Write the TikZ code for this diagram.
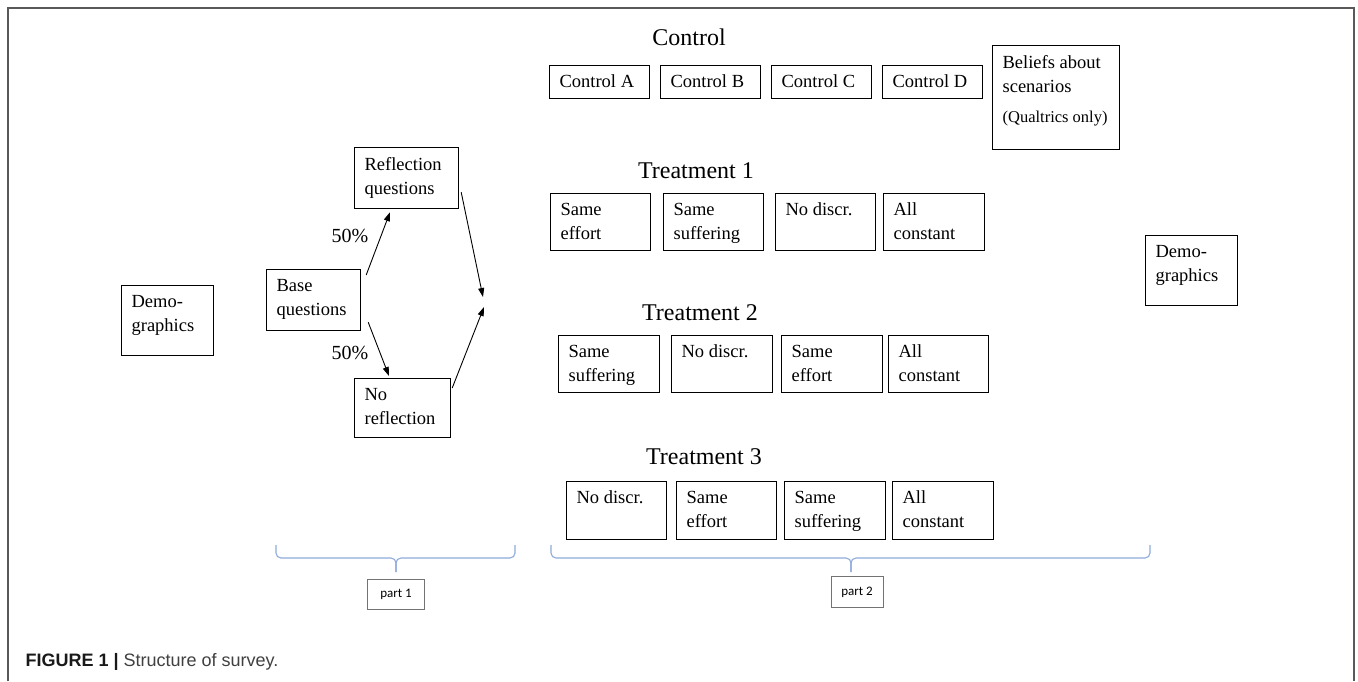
\documentclass[tikz,border=0pt]{standalone}
\usepackage{fontspec}
\setmainfont{Liberation Serif}
\newfontfamily\capfont{Liberation Sans}
\newfontfamily\partfont{Carlito}
\usetikzlibrary{arrows.meta}
\definecolor{bracecol}{HTML}{8FAADC}
\newcommand{\cellbox}[3]{\parbox[t][\dimexpr#2pt-18pt\relax][t]{\dimexpr#1pt-20pt\relax}{\raggedright#3}}

\begin{document}
\begin{tikzpicture}[x=1pt,y=-1pt,
  cell/.style={draw, line width=1.2pt, anchor=north west, inner xsep=10pt, inner ysep=9.5pt,
    font=\fontsize{18.5}{24}\selectfont},
  hdr/.style={font=\fontsize{24}{28}\selectfont},
  pct/.style={font=\fontsize{20}{24}\selectfont},
  arr/.style={line width=0.9pt, -{Triangle[length=9pt,width=6pt]}},
  partbrace/.style={bracecol, line width=1.1pt, rounded corners=5pt},
  partbox/.style={draw=black!55, line width=0.8pt, inner sep=0pt, font=\partfont\fontsize{13}{15}\selectfont}]
  \useasboundingbox (0,0) rectangle (1358,681);
  \draw[black!65, line width=1.6pt] (8,681) -- (8,8) -- (1354,8) -- (1354,681);

  % part 1
  \node[cell] (demoL) at (121,285) {\cellbox{92}{69}{Demo-\\graphics}};
  \node[cell] (base) at (266,269) {\cellbox{94}{60}{Base\\questions}};
  \node[cell] (refl) at (354,147) {\cellbox{104}{60}{Reflection\\questions}};
  \node[cell] (norefl) at (354,378) {\cellbox{96}{58}{No\\reflection}};
  \node[pct] (pcta) at (350,236) {50\%};
  \node[pct] (pctb) at (350,353) {50\%};
  \coordinate (merge) at (483,302);
  \draw[arr] ([shift={(5,6)}]base.north east) -- ([shift={(36,3)}]refl.south west);
  \draw[arr] ([shift={(7,-9)}]base.south east) -- ([shift={(35,-2)}]norefl.north west);
  \draw[arr] ([shift={(2,-17)}]refl.south east) -- ([shift={(0,-5)}]merge);
  \draw[arr] ([shift={(1,10)}]norefl.north east) -- ([shift={(1,5)}]merge);

  % control
  \node[hdr] (ctl) at (689,37) {Control};
  \node[cell] (ctla) at (549,65) {\cellbox{100}{32}{Control A}};
  \node[cell] (ctlb) at (660,65) {\cellbox{100}{32}{Control B}};
  \node[cell] (ctlc) at (771,65) {\cellbox{100}{32}{Control C}};
  \node[cell] (ctld) at (882,65) {\cellbox{100}{32}{Control D}};
  \node[cell] (beliefs) at (992,45) {\cellbox{127}{103}{Beliefs about\\scenarios\\[6pt]{\fontsize{16.5}{20}\selectfont(Qualtrics only)}}};

  % treatment 1
  \node[hdr] (tra) at (696,171) {Treatment 1};
  \node[cell] (traa) at (550,193) {\cellbox{100}{56}{Same\\effort}};
  \node[cell] (trab) at (663,193) {\cellbox{100}{56}{Same\\suffering}};
  \node[cell] (trac) at (775,193) {\cellbox{100}{56}{No discr.}};
  \node[cell] (trad) at (883,193) {\cellbox{101}{56}{All\\constant}};

  % treatment 2
  \node[hdr] (trb) at (700,313) {Treatment 2};
  \node[cell] (trba) at (558,335) {\cellbox{101}{56}{Same\\suffering}};
  \node[cell] (trbb) at (671,335) {\cellbox{101}{56}{No discr.}};
  \node[cell] (trbc) at (781,335) {\cellbox{101}{56}{Same\\effort}};
  \node[cell] (trbd) at (888,335) {\cellbox{100}{56}{All\\constant}};

  % treatment 3
  \node[hdr] (trc) at (704,457) {Treatment 3};
  \node[cell] (trca) at (566,481) {\cellbox{100}{57}{No discr.}};
  \node[cell] (trcb) at (676,481) {\cellbox{100}{57}{Same\\effort}};
  \node[cell] (trcc) at (784,481) {\cellbox{101}{57}{Same\\suffering}};
  \node[cell] (trcd) at (892,481) {\cellbox{101}{57}{All\\constant}};

  \node[cell] (demoR) at (1145,235) {\cellbox{92}{69}{Demo-\\graphics}};

  % braces and parts
  \draw[partbrace] (276,545) |- (396,558) -- (396,572);
  \draw[partbrace] (515,545) |- (396,558) -- (396,572);
  \draw[partbrace] (551,545) |- (851,558) -- (851,572);
  \draw[partbrace] (1150,545) |- (851,558) -- (851,572);
  \node[partbox, minimum width=57, minimum height=30] (partA) at (396,594) {part 1};
  \node[partbox, minimum width=52, minimum height=31] (partB) at (857,592) {part 2};

  \node[anchor=west, font=\capfont\fontsize{18}{21}\selectfont, text=black!75] (cap) at (22,662)
    {\textcolor{black!90}{\bfseries FIGURE 1 |} Structure of survey.};
\end{tikzpicture}
\end{document}
